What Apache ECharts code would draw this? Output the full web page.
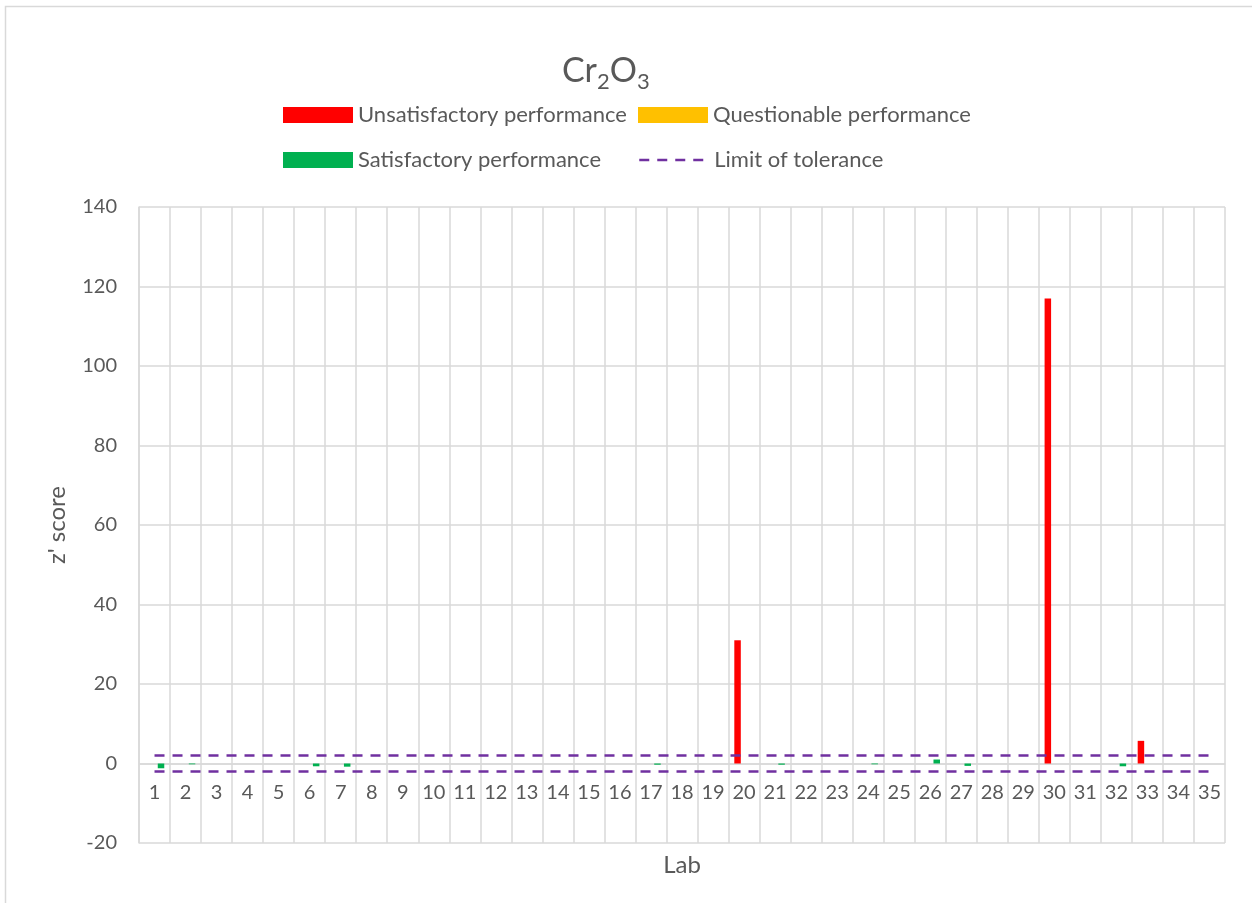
<!DOCTYPE html>
<html>
<head>
<meta charset="utf-8">
<script src="https://cdn.jsdelivr.net/npm/echarts@6/dist/echarts.min.js"></script>
<style>html,body{margin:0;padding:0;background:#fff}#c{width:1252px;height:903px}</style>
</head>
<body>
<div id="c"></div>
<script>
var labs = ['1','2','3','4','5','6','7','8','9','10','11','12','13','14','15','16','17','18','19','20','21','22','23','24','25','26','27','28','29','30','31','32','33','34','35'];
var unsatisfactory = [null,null,null,null,null,null,null,null,null,null,null,null,null,null,null,null,null,null,null,31,null,null,null,null,null,null,null,null,null,117,null,null,5.7,null,null];
var questionable = [null,null,null,null,null,null,null,null,null,null,null,null,null,null,null,null,null,null,null,null,null,null,null,null,null,null,null,null,null,null,null,null,null,null,null];
var satisfactory = [-1.2,-0.2,null,null,null,-0.7,-0.8,null,null,null,null,null,null,null,null,null,-0.3,null,null,null,-0.3,null,null,-0.2,null,1.0,-0.6,null,null,null,null,-0.7,null,null,null];
var upperLimit = [2,2,2,2,2,2,2,2,2,2,2,2,2,2,2,2,2,2,2,2,2,2,2,2,2,2,2,2,2,2,2,2,2,2,2];
var lowerLimit = [-2,-2,-2,-2,-2,-2,-2,-2,-2,-2,-2,-2,-2,-2,-2,-2,-2,-2,-2,-2,-2,-2,-2,-2,-2,-2,-2,-2,-2,-2,-2,-2,-2,-2,-2];
var yTicks = {min: -20, max: 140, interval: 20};

var FONT = 'Lato';
var TXT = '#595959';
var GRID = '#d9d9d9';
var DASH = [10, 8];
var chart = echarts.init(document.getElementById('c'), null, {renderer: 'canvas'});
var legendText = {fontSize: 22, color: TXT, fontFamily: FONT};
function lg(item, left, top, icon) {
  var o = {data: [item], left: left, top: top, itemWidth: 70, itemHeight: 16, itemGap: 6,
    textStyle: legendText, selectedMode: false};
  if (icon) o.icon = icon;
  return o;
}
var option = {
  animation: false,
  textStyle: {fontFamily: FONT},
  title: {
    text: 'Cr{s|2}O{s|3}', left: 557, top: 44,
    textStyle: {fontSize: 34, fontWeight: 'normal', color: TXT, fontFamily: FONT,
      rich: {s: {fontSize: 22, color: TXT, fontFamily: FONT, verticalAlign: 'bottom', padding: [22, 0, 0, 0]}}}
  },
  legend: [
    lg('Unsatisfactory performance', 278, 99, 'rect'),
    lg('Questionable performance', 633, 99, 'rect'),
    lg('Satisfactory performance', 278, 144, 'rect'),
    lg({name: 'Limit of tolerance', itemStyle: {opacity: 0}, lineStyle: {color: '#7030A0', width: 2.5, type: DASH}}, 633, 144)
  ],
  graphic: [{type: 'rect', shape: {x: 5.5, y: 6.5, width: 1300, height: 1000}, style: {fill: 'none', stroke: GRID, lineWidth: 1.5}, silent: true, z: -1}],
  grid: {left: 139, right: 27, top: 207, bottom: 60, containLabel: false, outerBoundsMode: 'none'},
  xAxis: {
    type: 'category', data: labs,
    name: 'Lab', nameLocation: 'middle', nameGap: 90,
    nameTextStyle: {fontSize: 24, color: TXT, fontFamily: FONT},
    axisLine: {onZero: false, lineStyle: {color: GRID, width: 1.5}},
    axisTick: {show: false},
    axisLabel: {fontSize: 20, color: TXT, fontFamily: FONT, margin: 19, interval: 0},
    splitLine: {show: true, interval: 0, lineStyle: {color: GRID, width: 1.5}}
  },
  yAxis: {
    type: 'value', min: yTicks.min, max: yTicks.max, interval: yTicks.interval,
    name: "z' score", nameLocation: 'middle', nameGap: 70, nameRotate: 90,
    nameTextStyle: {fontSize: 24, color: TXT, fontFamily: FONT},
    axisLine: {show: true, lineStyle: {color: GRID, width: 1.5}},
    axisTick: {show: false},
    axisLabel: {fontSize: 20, color: TXT, fontFamily: FONT, margin: 22},
    splitLine: {show: true, lineStyle: {color: GRID, width: 1.5}}
  },
  series: [
    {name: 'Unsatisfactory performance', type: 'bar', data: unsatisfactory, barWidth: 6.5, barGap: '0%', itemStyle: {color: '#FF0000'}},
    {name: 'Questionable performance', type: 'bar', data: questionable, barWidth: 6.5, barGap: '0%', itemStyle: {color: '#FFC000'}},
    {name: 'Satisfactory performance', type: 'bar', data: satisfactory, barWidth: 6.5, barGap: '0%', itemStyle: {color: '#00B050'}},
    {name: 'Limit of tolerance', type: 'line', data: upperLimit, symbol: 'none', lineStyle: {color: '#7030A0', width: 2.5, type: DASH}, itemStyle: {color: '#7030A0'}, z: 5},
    {name: 'Limit of tolerance', type: 'line', data: lowerLimit, symbol: 'none', lineStyle: {color: '#7030A0', width: 2.5, type: DASH}, itemStyle: {color: '#7030A0'}, z: 5}
  ]
};
chart.setOption(option);
// place the category axis (line + labels) at y = 0, as in the reference
var yZero = chart.convertToPixel({yAxisIndex: 0}, 0);
var yBottom = chart.convertToPixel({yAxisIndex: 0}, yTicks.min);
chart.setOption({xAxis: {offset: -(yBottom - yZero), nameGap: 101 - 11}});
</script>
</body>
</html>
